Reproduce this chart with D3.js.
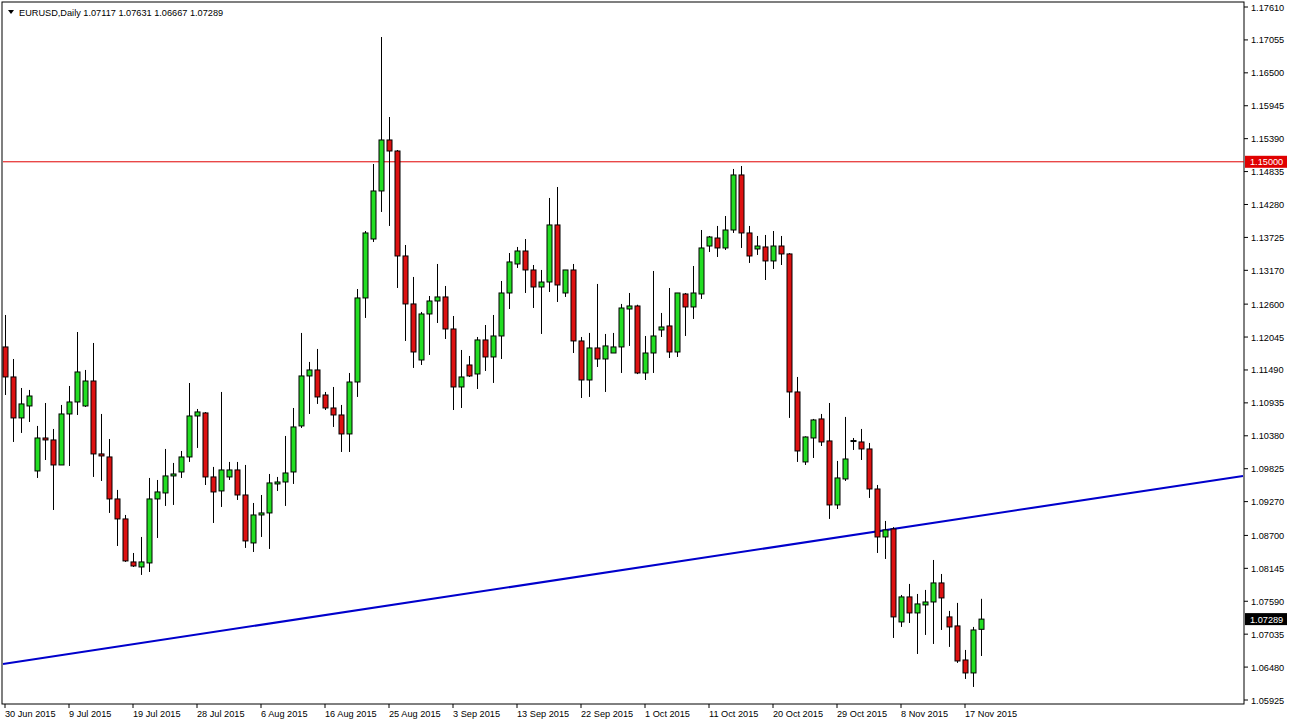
<!DOCTYPE html>
<html><head><meta charset="utf-8">
<script src="https://cdn.jsdelivr.net/npm/d3@7/dist/d3.min.js"></script>
<style>body{margin:0;background:#fff;overflow:hidden}svg{display:block}text{font-family:"Liberation Sans",Arial,sans-serif;font-size:9.2px}</style>
</head><body><svg id="c" width="1289" height="724"></svg>
<script>
const opens=[1.11878,1.11372,1.10681,1.10883,1.09787,1.10343,1.10310,1.09888,1.10748,1.10950,1.10883,1.11304,1.10074,1.10023,1.09315,1.08978,1.08253,1.08168,1.08236,1.09315,1.09416,1.09703,1.09770,1.10023,1.10714,1.10765,1.09686,1.09450,1.09686,1.09804,1.09382,
1.08573,1.09045,1.09079,1.09568,1.09601,1.09770,1.10546,1.11389,1.11490,1.11068,1.10849,1.10731,1.10411,1.11287,1.12704,1.13698,1.14508,1.15368,1.15182,1.13412,1.12603,1.11658,1.12434,1.12653,1.12721,1.12181,1.11203,1.11574,1.11422,1.11996,1.11709,
1.12063,1.12788,1.13277,1.13496,1.13176,1.12889,1.12973,1.13935,1.12788,1.13176,1.11979,1.11321,1.11861,1.11675,1.11776,1.11878,1.12518,1.12569,1.11439,1.11776,1.12164,1.12232,1.11793,1.12771,1.12552,1.12771,1.13580,1.13715,1.13547,1.13850,1.14778,1.13800,1.13530,
1.13564,1.13328,1.13580,1.13446,1.11119,1.09939,1.10343,1.10664,1.10293,1.09214,1.09652,1.10293,1.10276,1.10158,1.09483,1.08674,1.08809,1.07241,1.07663,1.07393,1.07528,1.07578,1.07899,1.07326,1.07174,1.06600,1.06381,1.07117];
const highs=[1.12417,1.11675,1.11186,1.11153,1.10546,1.10933,1.10495,1.10900,1.11220,1.12130,1.11490,1.11945,1.10748,1.10326,1.09467,1.09045,1.08404,1.08674,1.09669,1.09635,1.10158,1.09922,1.10124,1.11270,1.10832,1.10780,1.09855,1.11119,1.09939,1.09939,1.09888,
1.09247,1.09382,1.09736,1.09686,1.10377,1.10849,1.12114,1.11625,1.11844,1.11119,1.11203,1.10900,1.11439,1.12855,1.13833,1.14963,1.17104,1.15755,1.15199,1.13597,1.13058,1.12468,1.12737,1.13277,1.12906,1.12400,1.11827,1.11726,1.12046,1.12248,1.12417,
1.12990,1.13462,1.13564,1.13698,1.13260,1.13176,1.14390,1.14575,1.13176,1.13277,1.12046,1.12114,1.12940,1.12097,1.12114,1.12603,1.12788,1.12590,1.12063,1.13159,1.12451,1.12872,1.12788,1.12788,1.13243,1.13850,1.13749,1.13918,1.14086,1.14879,1.14929,1.13918,1.13749,
1.13766,1.13833,1.13749,1.13460,1.11372,1.10370,1.10664,1.10748,1.10933,1.09956,1.10698,1.10343,1.10495,1.10259,1.09551,1.08944,1.08840,1.07696,1.07882,1.07713,1.07781,1.08286,1.08050,1.07427,1.07562,1.06769,1.07157,1.07631];
const lows=[1.11068,1.10276,1.10428,1.10613,1.09669,1.09972,1.09129,1.09888,1.09871,1.10731,1.10866,1.09686,1.09618,1.09079,1.08522,1.08253,1.08168,1.08034,1.08084,1.08657,1.09197,1.09214,1.09669,1.09939,1.10175,1.09550,1.08910,1.09180,1.09635,1.09298,1.08489,
1.08421,1.08674,1.08472,1.09450,1.09197,1.09568,1.10512,1.10748,1.10917,1.10815,1.10529,1.10107,1.10107,1.11035,1.12367,1.13648,1.14154,1.13918,1.12872,1.11979,1.11524,1.11574,1.11743,1.12282,1.12012,1.10815,1.10849,1.11372,1.11169,1.11473,1.11271,
1.11675,1.12518,1.13210,1.12788,1.12535,1.12097,1.12805,1.12636,1.12721,1.11776,1.11017,1.11035,1.11540,1.11119,1.11776,1.11439,1.11895,1.11420,1.11321,1.11439,1.12046,1.11692,1.11709,1.12063,1.12350,1.12687,1.13479,1.13395,1.13513,1.13800,1.13547,1.13294,1.13429,
1.13007,1.13193,1.13260,1.10681,1.09939,1.09888,1.10006,1.10208,1.08978,1.09146,1.09618,1.10141,1.09972,1.09332,1.08404,1.08303,1.06971,1.07157,1.07224,1.06701,1.07022,1.06870,1.07106,1.06820,1.06550,1.06280,1.06145,1.06667];
const closes=[1.11372,1.10681,1.10917,1.11051,1.10343,1.10310,1.09888,1.10748,1.10950,1.11456,1.11304,1.10074,1.10040,1.09315,1.08978,1.08270,1.08185,1.08253,1.09315,1.09433,1.09703,1.09736,1.10023,1.10714,1.10782,1.09686,1.09433,1.09804,1.09804,1.09382,1.08607,
1.09045,1.09079,1.09585,1.09601,1.09753,1.10529,1.11389,1.11490,1.11035,1.10849,1.10731,1.10411,1.11287,1.12704,1.13800,1.14508,1.15368,1.15182,1.13412,1.12603,1.11793,1.12434,1.12653,1.12721,1.12181,1.11203,1.11372,1.11389,1.11996,1.11709,1.12063,
1.12788,1.13311,1.13496,1.13176,1.12889,1.12973,1.13935,1.12923,1.13176,1.11979,1.11321,1.11861,1.11675,1.11895,1.11878,1.12535,1.12569,1.11439,1.11776,1.12063,1.12215,1.11793,1.12788,1.12552,1.12788,1.13547,1.13732,1.13547,1.13850,1.14778,1.13800,1.13412,1.13580,
1.13328,1.13580,1.13446,1.11119,1.10124,1.10360,1.10647,1.10276,1.09214,1.09669,1.09989,1.10300,1.10158,1.09483,1.08674,1.08792,1.07326,1.07663,1.07393,1.07545,1.07578,1.07899,1.07646,1.07157,1.06583,1.06381,1.07106,1.07289];
const dateLabels=["30 Jun 2015","9 Jul 2015","19 Jul 2015","28 Jul 2015","6 Aug 2015","16 Aug 2015","25 Aug 2015","3 Sep 2015","13 Sep 2015","22 Sep 2015","1 Oct 2015","11 Oct 2015","20 Oct 2015","29 Oct 2015","8 Nov 2015","17 Nov 2015"];
const dateIndex=[0,8,16,24,32,40,48,56,64,72,80,88,96,104,112,120];
const priceTicks=[1.17610,1.17055,1.16500,1.15945,1.15390,1.14835,1.14280,1.13725,1.13170,1.12600,1.12045,1.11490,1.10935,1.10380,1.09825,1.09270,1.08700,1.08145,1.07590,1.07035,1.06480,1.05925];
const resistance=1.15000;
const trendIdx=[-0.25,154.75], trendPrice=[1.06533,1.09703];
const lastPrice=1.07289;

const svg=d3.select("#c");
const L=3,R=1244,T=3,B=704;
const x=d3.scaleLinear().domain([0,122]).range([5,981]);
const y=d3.scaleLinear().domain([1.05925,1.17610]).range([700,7]);
svg.append("rect").attr("x",L-1).attr("y",T-1).attr("width",R-L+1).attr("height",B-T+1).attr("fill","#fff").attr("stroke","#000");
const g=svg.append("g");
g.append("line").attr("x1",x(trendIdx[0])).attr("y1",y(trendPrice[0])).attr("x2",x(trendIdx[1])).attr("y2",y(trendPrice[1])).attr("stroke","#0000cc").attr("stroke-width",2);
g.append("line").attr("x1",L).attr("x2",R).attr("y1",y(resistance)).attr("y2",y(resistance)).attr("stroke","#e00000").attr("stroke-width",1);
const data=opens.map((o,i)=>({i,o,h:highs[i],l:lows[i],c:closes[i]}));
const cg=g.selectAll("g.c").data(data).join("g");
cg.append("line").attr("x1",d=>x(d.i)+0.5).attr("x2",d=>x(d.i)+0.5).attr("y1",d=>y(d.h)).attr("y2",d=>y(d.l)).attr("stroke","#000");
cg.append("rect").attr("x",d=>x(d.i)-2).attr("width",5)
 .attr("y",d=>y(Math.max(d.o,d.c))).attr("height",d=>Math.max(1,Math.abs(y(d.o)-y(d.c))))
 .attr("fill",d=>d.c>=d.o?"#22dd22":"#dd1111").attr("stroke","#000").attr("stroke-width",1);
const ax=svg.append("g");
priceTicks.forEach(p=>{ax.append("line").attr("x1",R).attr("x2",R+4).attr("y1",y(p)).attr("y2",y(p)).attr("stroke","#000");
 ax.append("text").attr("x",R+7).attr("y",y(p)+3.5).text(p.toFixed(5));});
function tag(p,bg){const yy=y(p);ax.append("rect").attr("x",R+1).attr("y",yy-6).attr("width",42).attr("height",12).attr("fill",bg);
 ax.append("text").attr("x",R+6).attr("y",yy+3.5).attr("fill","#fff").text(p.toFixed(5));}
tag(resistance,"#e00000");tag(lastPrice,"#000");
dateIndex.forEach((di,k)=>{const xx=x(di);ax.append("line").attr("x1",xx).attr("x2",xx).attr("y1",B).attr("y2",B+4).attr("stroke","#000");
 ax.append("text").attr("x",xx).attr("y",B+13).text(dateLabels[k]);});
svg.append("path").attr("d","M8,10 L14,10 L11,14 Z").attr("fill","#000");
svg.append("text").attr("x",19).attr("y",16).text("EURUSD,Daily  "+[opens[122],highs[122],lows[122],closes[122]].map(v=>v.toFixed(5)).join(" "));
</script></body></html>
